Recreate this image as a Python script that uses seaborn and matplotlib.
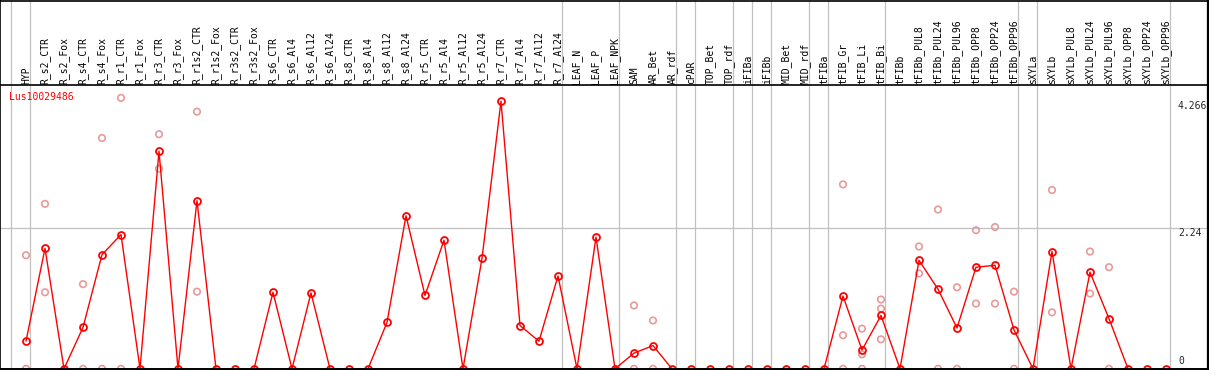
"""
Expression profile of one gene across tissues / treatments.

Mean per sample as a red line, single replicates as faded circles.
"""

import matplotlib
matplotlib.use("Agg")
import matplotlib.pyplot as plt
import pandas as pd
import seaborn as sns

gene_id = "Lus10029486"

categories = [
    "HYP", "R_s2_CTR", "R_s2_Fox", "R_s4_CTR", "R_s4_Fox", "R_r1_CTR",
    "R_r1_Fox", "R_r3_CTR", "R_r3_Fox", "R_r1s2_CTR", "R_r1s2_Fox",
    "R_r3s2_CTR", "R_r3s2_Fox", "R_s6_CTR", "R_s6_Al4", "R_s6_Al12",
    "R_s6_Al24", "R_s8_CTR", "R_s8_Al4", "R_s8_Al12", "R_s8_Al24",
    "R_r5_CTR", "R_r5_Al4", "R_r5_Al12", "R_r5_Al24", "R_r7_CTR",
    "R_r7_Al4", "R_r7_Al12", "R_r7_Al24", "LEAF_N", "LEAF_P", "LEAF_NPK",
    "SAM", "AR_Bet", "AR_rdf", "cPAR", "TOP_Bet", "TOP_rdf", "iFIBa",
    "iFIBb", "MID_Bet", "MID_rdf", "tFIBa", "tFIB_Gr", "tFIB_Li", "tFIB_Bi",
    "tFIBb", "tFIBb_PUL8", "tFIBb_PUL24", "tFIBb_PUL96", "tFIBb_OPP8",
    "tFIBb_OPP24", "tFIBb_OPP96", "sXYLa", "sXYLb", "sXYLb_PUL8",
    "sXYLb_PUL24", "sXYLb_PUL96", "sXYLb_OPP8", "sXYLb_OPP24", "sXYLb_OPP96",
]

mean_expr = [
    0.44, 1.92, 0, 0.66, 1.82, 2.14, 0, 3.47, 0, 2.68, 0, 0, 0, 1.22, 0,
    1.21, 0, 0, 0, 0.74, 2.44, 1.17, 2.05, 0, 1.76, 4.266, 0.69, 0.44, 1.48,
    0, 2.10, 0, 0.25, 0.37, 0, 0, 0, 0, 0, 0, 0, 0, 0, 1.16, 0.30, 0.85, 0,
    1.73, 1.27, 0.65, 1.62, 1.65, 0.62, 0, 1.87, 0, 1.54, 0.80, 0, 0, 0,
]

# single replicates (only the ones that show next to the mean)
rep_cats = [
    "HYP", "HYP", "R_s2_CTR", "R_s2_CTR", "R_s4_CTR", "R_s4_CTR",
    "R_s4_Fox", "R_s4_Fox", "R_r1_CTR", "R_r1_CTR", "R_r3_CTR", "R_r3_CTR",
    "R_r1s2_CTR", "R_r1s2_CTR", "SAM", "SAM", "AR_Bet", "AR_Bet",
    "tFIB_Gr", "tFIB_Gr", "tFIB_Gr", "tFIB_Li", "tFIB_Li", "tFIB_Li",
    "tFIB_Bi", "tFIB_Bi", "tFIB_Bi", "tFIBb_PUL8", "tFIBb_PUL8",
    "tFIBb_PUL24", "tFIBb_PUL24", "tFIBb_PUL96", "tFIBb_PUL96",
    "tFIBb_OPP8", "tFIBb_OPP8", "tFIBb_OPP24", "tFIBb_OPP24",
    "tFIBb_OPP96", "tFIBb_OPP96", "sXYLb", "sXYLb", "sXYLb_PUL24",
    "sXYLb_PUL24", "sXYLb_PUL96", "sXYLb_PUL96",
]
rep_vals = [
    1.81, 0, 2.63, 1.22, 1.35, 0,
    3.68, 0, 4.32, 0, 3.74, 3.19,
    4.10, 1.23, 1.01, 0, 0.77, 0,
    2.94, 0.535, 0, 0.64, 0.23, 0,
    1.105, 0.96, 0.47, 1.95, 1.52,
    2.54, 0, 1.30, 0,
    2.21, 1.04, 2.26, 1.04,
    1.23, 0, 2.85, 0.90, 1.87,
    1.20, 1.62, 0,
]

# index of the last sample in each tissue group (separator drawn after it)
group_ends = [-1, 0, 28, 31, 34, 35, 37, 38, 39, 41, 42, 45, 52, 53, 60]
y_ticks = [0, 2.24, 4.266]

W, H = 1209, 370
X0, DX = 26.0, 19.0          # pixel x of first sample, sample spacing
Y0, PPU = 368.8, 62.72       # pixel y of zero, pixels per unit
GRAY = "#c0c0c0"
PINK = "#e89a9a"


def ydata(py: float) -> float:
    """Pixel row (from top) to data value."""
    return (Y0 - py) / PPU


def xdata(px: float) -> float:
    """Pixel column to sample position."""
    return (px - X0) / DX


sns.set_style("white")
plt.rcParams["font.family"] = ["DejaVu Sans Mono"]

fig = plt.figure(figsize=(W / 100, H / 100), dpi=100)
ax = fig.add_axes([0, 0, 1, 1])
ax.set_xlim(xdata(0), xdata(W))
ax.set_ylim(ydata(H), ydata(0))
ax.axis("off")

means_df = pd.DataFrame(
    {"pos": range(len(categories)), "value": mean_expr}
)
pos_of = {c: i for i, c in enumerate(categories)}
reps_df = pd.DataFrame(
    {"pos": [pos_of[c] for c in rep_cats], "value": rep_vals}
)

# separators and grid
for end in group_ends:
    ax.axvline(end + 4 / DX, color=GRAY, lw=0.9, zorder=1)
ax.axhline(2.24, color=GRAY, lw=0.9, zorder=1)

# frame
ax.axhline(ydata(85), color="black", lw=1.2, zorder=5)
ax.axhline(ydata(0.5), color="black", lw=1.2, zorder=5)
ax.axhline(0, color="black", lw=1.4, zorder=5)
ax.axvline(xdata(0.5), color="black", lw=1.2, zorder=5)
ax.axvline(xdata(1207.5), color="black", lw=1.6, zorder=5)

sns.scatterplot(
    data=reps_df, x="pos", y="value", ax=ax, marker="o", s=22,
    facecolors="none", edgecolors=PINK, linewidth=1.2, zorder=2,
    legend=False,
)
sns.lineplot(
    data=means_df, x="pos", y="value", ax=ax, color="red", lw=1.0,
    marker="o", markersize=5, markerfacecolor="none",
    markeredgecolor="red", markeredgewidth=1.3, zorder=3,
)
ax.set_xlim(xdata(0), xdata(W))
ax.set_ylim(ydata(H), ydata(0))
ax.axis("off")

for i, name in enumerate(categories):
    ax.text(i, ydata(83.5), name, rotation=90, ha="center", va="bottom",
            fontsize=7, color="black")

ax.text(xdata(9.5), ydata(97.5), gene_id, color="red", fontsize=7,
        ha="left", va="center")

tx = xdata(1178)
ax.text(tx, y_ticks[2], "4.266", fontsize=7, ha="left", va="top")
ax.text(tx, y_ticks[1], "2.24", fontsize=7, ha="left", va="top")
ax.text(tx, ydata(366), "0", fontsize=7, ha="left", va="bottom")

fig.savefig("out.png", dpi=100)
